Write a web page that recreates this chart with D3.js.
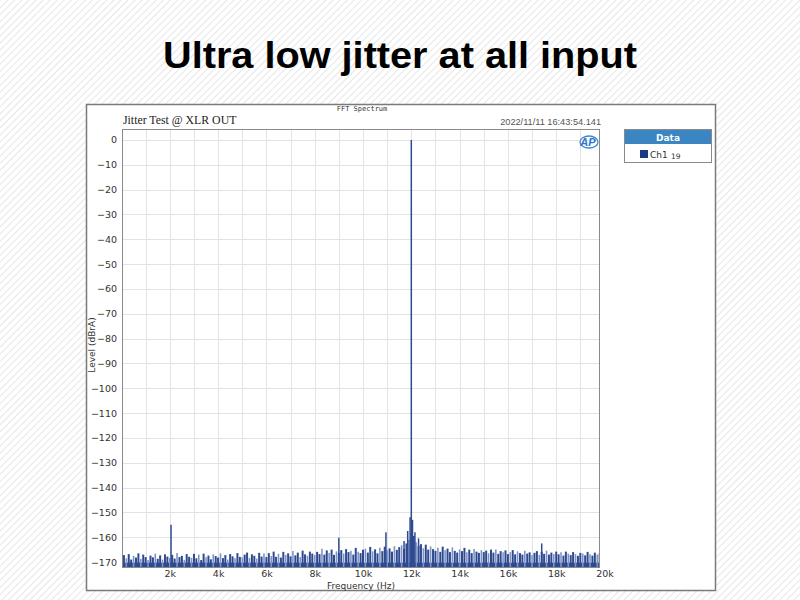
<!DOCTYPE html>
<html>
<head>
<meta charset="utf-8">
<script src="https://cdn.jsdelivr.net/npm/d3@7"></script>
<style>
  html, body { margin: 0; padding: 0; background: #fff; }
  svg { display: block; }
</style>
</head>
<body>
<svg id="chart" width="800" height="600"></svg>
<script>
// ---------------- DATA ----------------
const pageTitle = "Ultra low jitter at all input";
const chartTitle = "Jitter Test @ XLR OUT";
const chartSubtitle = "FFT Spectrum";
const timestamp = "2022/11/11 16:43:54.141";
const yAxisTitle = "Level (dBrA)";
const xAxisTitle = "Frequency (Hz)";
const legendTitle = "Data";
const legendSeries = "Ch1";
const legendSuffix = "19";

const xTickValues = [2000, 4000, 6000, 8000, 10000, 12000, 14000, 16000, 18000, 20000];
const xTickLabels = ["2k", "4k", "6k", "8k", "10k", "12k", "14k", "16k", "18k", "20k"];
const yTickValues = [0, -10, -20, -30, -40, -50, -60, -70, -80, -90, -100, -110, -120, -130, -140, -150, -160, -170];

// noise floor, one value per 100 Hz bin starting at 100 Hz (dBrA)
const noiseStartHz = 100;
const noiseStepHz = 100;
const noiseLevels = [
  -167.2,-168.5,-166.8,-169.0,-167.5,-168.2,-166.5,-168.8,-167.0,-168.0,
  -169.2,-167.4,-168.1,-166.6,-168.7,-167.3,-169.0,-166.9,-167.8,-168.4,
  -167.1,-168.6,-166.4,-168.0,-167.5,-169.1,-166.8,-167.9,-168.3,-166.7,
  -168.5,-167.0,-169.2,-166.6,-168.1,-167.4,-168.9,-166.9,-167.6,-168.2,
  -166.5,-168.4,-167.2,-169.0,-166.8,-167.7,-168.5,-166.4,-167.9,-168.1,
  -167.0,-166.2,-168.3,-166.9,-167.5,-168.6,-166.3,-167.8,-166.6,-168.0,
  -166.4,-167.6,-165.8,-167.9,-166.7,-168.2,-165.9,-167.1,-166.5,-167.7,
  -165.6,-167.3,-166.2,-168.0,-165.4,-166.9,-167.5,-165.8,-166.6,-167.2,
  -165.9,-166.8,-164.6,-167.0,-165.3,-166.4,-165.0,-167.1,-165.7,-166.3,
  -165.2,-166.6,-164.8,-166.0,-165.5,-167.0,-164.3,-165.9,-166.4,-165.1,
  -164.6,-166.2,-163.9,-165.7,-164.9,-166.5,-164.2,-165.6,-163.8,-165.3,
  -164.5,-165.8,-163.6,-165.1,-164.0,-163.2,-164.7,-162.5,-161.0,-160.0,
  -159.5,-162.0,-163.5,-162.8,-164.4,-163.0,-165.0,-163.7,-164.8,-165.5,
  -164.2,-165.9,-163.8,-165.3,-164.6,-166.0,-164.1,-165.5,-166.2,-164.9,
  -165.6,-164.3,-166.1,-165.0,-166.4,-164.7,-165.8,-166.3,-165.2,-166.0,
  -165.4,-166.5,-165.0,-166.2,-164.9,-166.7,-165.6,-166.1,-165.3,-166.8,
  -166.0,-165.2,-166.9,-165.7,-166.4,-167.0,-165.5,-166.6,-166.1,-167.2,
  -166.3,-165.6,-167.1,-165.9,-166.7,-165.4,-167.0,-166.2,-166.8,-165.8,
  -166.9,-166.1,-167.4,-165.8,-166.6,-167.2,-166.0,-166.8,-167.5,-166.3,
  -166.6,-167.3,-165.9,-166.9,-167.4,-166.2,-167.0,-166.5,-167.2
];

// tone and discrete spurs
const spurFreqs  = [2050, 9000, 10950, 11700, 11850, 11950, 12000, 12050, 12150, 12300, 17400];
const spurLevels = [-155.0, -160.2, -158.0, -161.5, -157.5, -152.0, 0.0, -153.0, -158.0, -160.5, -162.5];

// ---------------- DRAW ----------------
const svg = d3.select("#chart");

// striped background
const defs = svg.append("defs");
const pat = defs.append("pattern")
  .attr("id", "stripes").attr("width", 5).attr("height", 5)
  .attr("patternUnits", "userSpaceOnUse")
  .attr("patternTransform", "rotate(45)");
pat.append("rect").attr("width", 5).attr("height", 5).attr("fill", "#ffffff");
pat.append("line").attr("x1", 0).attr("y1", 0).attr("x2", 0).attr("y2", 5)
  .attr("stroke", "#e0e0e0").attr("stroke-width", 1.6);
svg.append("rect").attr("width", 800).attr("height", 600).attr("fill", "url(#stripes)");

// page title
svg.append("text")
  .attr("x", 400).attr("y", 68)
  .attr("text-anchor", "middle")
  .attr("font-family", "Liberation Sans, Arial, sans-serif")
  .attr("font-weight", "bold")
  .attr("font-size", 37)
  .attr("textLength", 474)
  .attr("lengthAdjust", "spacingAndGlyphs")
  .attr("fill", "#000")
  .text(pageTitle);

// white panel
svg.append("rect")
  .attr("x", 86.5).attr("y", 104.5).attr("width", 629).attr("height", 486)
  .attr("fill", "#fff").attr("stroke", "#7a7a7a").attr("stroke-width", 1.5);

const frame = { left: 122, right: 600, top: 129, bottom: 568 };

const x = d3.scaleLinear().domain([0, 20000]).range([121.5, 604.5]);
const y = d3.scaleLinear().domain([-172.4, 4.4]).range([frame.bottom, frame.top]);

defs.append("clipPath").attr("id", "plotclip")
  .append("rect")
  .attr("x", frame.left).attr("y", frame.top)
  .attr("width", frame.right - frame.left).attr("height", frame.bottom - frame.top);

// grid
const grid = svg.append("g").attr("clip-path", "url(#plotclip)");
const vGrid = d3.range(1000, 20000, 1000);
grid.selectAll("line.v").data(vGrid).join("line")
  .attr("class", "v")
  .attr("x1", d => Math.round(x(d)) + 0.5).attr("x2", d => Math.round(x(d)) + 0.5)
  .attr("y1", frame.top).attr("y2", frame.bottom)
  .attr("stroke", "#e3e3e3").attr("stroke-width", 1);
grid.selectAll("line.h").data(yTickValues).join("line")
  .attr("class", "h")
  .attr("x1", frame.left).attr("x2", frame.right)
  .attr("y1", d => Math.round(y(d)) + 0.5).attr("y2", d => Math.round(y(d)) + 0.5)
  .attr("stroke", "#e3e3e3").attr("stroke-width", 1);

// spectrum
const noise = noiseLevels.map((v, i) => ({ f: noiseStartHz + i * noiseStepHz, v }));
const spurs = spurFreqs.map((f, i) => ({ f, v: spurLevels[i] }));

const plot = svg.append("g").attr("clip-path", "url(#plotclip)");
// floor band
plot.append("rect")
  .attr("x", frame.left).attr("width", frame.right - frame.left)
  .attr("y", y(-170.3)).attr("height", frame.bottom - y(-170.3))
  .attr("fill", "#2f4b92");
plot.selectAll("line.n").data(noise).join("line")
  .attr("class", "n")
  .attr("x1", d => x(d.f)).attr("x2", d => x(d.f))
  .attr("y1", frame.bottom).attr("y2", d => y(d.v))
  .attr("stroke", (d, i) => i % 3 === 1 ? "#7e92c6" : "#2e4a90")
  .attr("stroke-width", (d, i) => i % 3 === 1 ? 1.6 : 2);
plot.selectAll("line.s").data(spurs).join("line")
  .attr("class", "s")
  .attr("x1", d => x(d.f)).attr("x2", d => x(d.f))
  .attr("y1", frame.bottom).attr("y2", d => y(d.v))
  .attr("stroke", "#2e4a90").attr("stroke-width", 1.5);

// frame border
svg.append("rect")
  .attr("x", frame.left + 0.5).attr("y", frame.top + 0.5)
  .attr("width", frame.right - frame.left - 1).attr("height", frame.bottom - frame.top - 1)
  .attr("fill", "none").attr("stroke", "#8a8a8a").attr("stroke-width", 1);

// axes
const axisFont = "DejaVu Sans, sans-serif";
const yAxis = svg.append("g")
  .attr("transform", `translate(${frame.left},0)`)
  .call(d3.axisLeft(y).tickValues(yTickValues).tickSize(0).tickPadding(5));
yAxis.select(".domain").remove();
yAxis.selectAll("text").attr("font-family", axisFont).attr("font-size", 9.5).attr("fill", "#333");

const xAxis = svg.append("g")
  .attr("transform", `translate(0,${frame.bottom})`)
  .call(d3.axisBottom(x).tickValues(xTickValues)
    .tickFormat((d, i) => xTickLabels[i]).tickSize(0).tickPadding(2));
xAxis.select(".domain").remove();
xAxis.selectAll("text").attr("font-family", axisFont).attr("font-size", 9.5).attr("fill", "#333");

// axis titles
svg.append("text")
  .attr("transform", "translate(95,345) rotate(-90)")
  .attr("text-anchor", "middle")
  .attr("font-family", axisFont).attr("font-size", 9).attr("fill", "#333")
  .text(yAxisTitle);
svg.append("text")
  .attr("x", 361).attr("y", 589)
  .attr("text-anchor", "middle")
  .attr("font-family", axisFont).attr("font-size", 9).attr("fill", "#333")
  .text(xAxisTitle);

// header texts
svg.append("text")
  .attr("x", 362).attr("y", 111)
  .attr("text-anchor", "middle")
  .attr("font-family", "DejaVu Sans Mono, monospace").attr("font-size", 7).attr("fill", "#333")
  .text(chartSubtitle);
svg.append("text")
  .attr("x", 123).attr("y", 124)
  .attr("font-family", "Liberation Serif, serif").attr("font-size", 11.8).attr("fill", "#222")
  .text(chartTitle);
svg.append("text")
  .attr("x", 601).attr("y", 125)
  .attr("text-anchor", "end")
  .attr("font-family", "Liberation Sans, Arial, sans-serif").attr("font-size", 9.2).attr("fill", "#555")
  .text(timestamp);

// AP logo
const logo = svg.append("g").attr("transform", "translate(588,142)");
logo.append("ellipse").attr("cx", 1).attr("cy", 0).attr("rx", 9).attr("ry", 6)
  .attr("fill", "none").attr("stroke", "#3c86d8").attr("stroke-width", 1.3);
logo.append("text").attr("x", 0).attr("y", 4).attr("text-anchor", "middle")
  .attr("font-family", "Liberation Sans, sans-serif").attr("font-weight", "bold")
  .attr("font-style", "italic").attr("font-size", 11).attr("fill", "#2f74c8")
  .text("AP");

// legend
const lg = svg.append("g");
lg.append("rect").attr("x", 624.5).attr("y", 129.5).attr("width", 87).attr("height", 33)
  .attr("fill", "#fff").attr("stroke", "#8a8a8a").attr("stroke-width", 1);
lg.append("rect").attr("x", 625).attr("y", 130).attr("width", 86).attr("height", 14)
  .attr("fill", "#3b86c2");
lg.append("text").attr("x", 668).attr("y", 141).attr("text-anchor", "middle")
  .attr("font-family", axisFont).attr("font-weight", "bold").attr("font-size", 9)
  .attr("fill", "#fff").text(legendTitle);
lg.append("rect").attr("x", 640).attr("y", 150).attr("width", 8).attr("height", 8)
  .attr("fill", "#1d3a86");
lg.append("text").attr("x", 650).attr("y", 158)
  .attr("font-family", axisFont).attr("font-size", 9).attr("fill", "#333").text(legendSeries);
lg.append("text").attr("x", 671).attr("y", 158.5)
  .attr("font-family", axisFont).attr("font-size", 7.5).attr("fill", "#333").text(legendSuffix);
</script>
</body>
</html>
